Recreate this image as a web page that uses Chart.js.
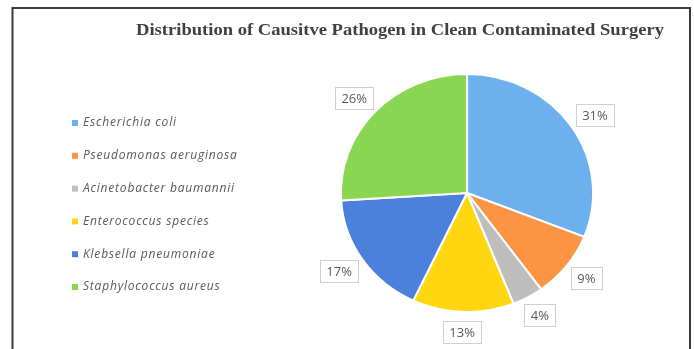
<!DOCTYPE html>
<html>
<head>
<meta charset="utf-8">
<script src="https://cdn.jsdelivr.net/npm/chart.js@4/dist/chart.umd.min.js"></script>
<style>
  html, body { margin: 0; padding: 0; background: #ffffff; }
  #wrap { width: 694px; height: 349px; position: relative; }
</style>
</head>
<body>
<div id="wrap"><canvas id="pie" width="694" height="349"></canvas></div>
<script>
// Pathogen categories and their share (%) of isolates
const pathogens = [
  'Escherichia coli',
  'Pseudomonas aeruginosa',
  'Acinetobacter baumannii',
  'Enterococcus species',
  'Klebsella pneumoniae',
  'Staphylococcus aureus'
];
const shares = [31, 9, 4, 13, 17, 26];
const sliceColors = ['#6cb0ee', '#fc9443', '#bebebe', '#ffd60f', '#4b80dd', '#89d652'];
const chartTitle = 'Distribution of Causitve Pathogen in Clean Contaminated Surgery';

// Pie is drawn slightly wider than tall
const STRETCH_X = 1.06;

const framePlugin = {
  id: 'frame',
  beforeDraw(chart) {
    const ctx = chart.ctx;
    ctx.save();
    ctx.strokeStyle = '#3a3a3a';
    ctx.lineWidth = 2;
    ctx.beginPath();
    ctx.moveTo(12.5, 349);
    ctx.lineTo(12.5, 8);
    ctx.lineTo(690, 8);
    ctx.lineTo(690, 349);
    ctx.stroke();

    // title, widened to span its full line
    ctx.save();
    ctx.fillStyle = '#404040';
    ctx.font = 'bold 17px "Liberation Serif", "Times New Roman", serif';
    ctx.textAlign = 'left';
    ctx.textBaseline = 'middle';
    const tw = ctx.measureText(chartTitle).width;
    ctx.translate(136, 31);
    ctx.scale(528 / tw, 1);
    ctx.fillText(chartTitle, 0, 0);
    ctx.restore();

    // legend
    ctx.font = 'italic 12px "Open Sans", sans-serif';
    ctx.letterSpacing = '0.8px';
    ctx.textAlign = 'left';
    ctx.textBaseline = 'middle';
    pathogens.forEach((name, i) => {
      const y = 123 + i * 32.8;
      ctx.fillStyle = sliceColors[i];
      ctx.fillRect(72, y - 3, 6, 6);
      ctx.fillStyle = '#595959';
      ctx.fillText(name, 83, y);
    });
    ctx.restore();
  },
  beforeDatasetsDraw(chart) {
    const arc = chart.getDatasetMeta(0).data[0];
    const ctx = chart.ctx;
    ctx.save();
    ctx.translate(arc.x, arc.y);
    ctx.scale(STRETCH_X, 1);
    ctx.translate(-arc.x, -arc.y);
  },
  afterDatasetsDraw(chart) {
    const ctx = chart.ctx;
    ctx.restore();

    // percentage call-outs just outside each slice
    const meta = chart.getDatasetMeta(0);
    ctx.save();
    ctx.font = '13px "Open Sans", sans-serif';
    ctx.textAlign = 'center';
    ctx.textBaseline = 'middle';
    meta.data.forEach((el, i) => {
      const mid = (el.startAngle + el.endAngle) / 2;
      const ux = Math.cos(mid), uy = Math.sin(mid);
      const text = shares[i] + '%';
      const w = Math.ceil(ctx.measureText(text).width) + 12;
      const h = 22;
      const gap = 9;
      const px = el.x + (el.outerRadius + gap) * ux * STRETCH_X;
      const py = el.y + (el.outerRadius + gap) * uy;
      const bx = px + ux * w / 2;
      const by = py + uy * h / 2;
      const left = Math.round(bx - w / 2) + 0.5;
      const top = Math.round(by - h / 2) + 0.5;
      ctx.fillStyle = '#ffffff';
      ctx.fillRect(left, top, w, h);
      ctx.strokeStyle = '#cfcfcf';
      ctx.lineWidth = 1;
      ctx.strokeRect(left, top, w, h);
      ctx.fillStyle = '#595959';
      ctx.fillText(text, bx, by + 1);
    });
    ctx.restore();
  }
};

new Chart(document.getElementById('pie'), {
  type: 'pie',
  data: {
    labels: pathogens,
    datasets: [{
      data: shares,
      backgroundColor: sliceColors,
      borderColor: '#ffffff',
      borderWidth: 2
    }]
  },
  options: {
    responsive: false,
    animation: false,
    events: [],
    layout: { padding: { left: 347, right: 107, top: 73, bottom: 36 } },
    plugins: {
      legend: { display: false },
      title: { display: false },
      tooltip: { enabled: false }
    }
  },
  plugins: [framePlugin]
});
</script>
</body>
</html>
